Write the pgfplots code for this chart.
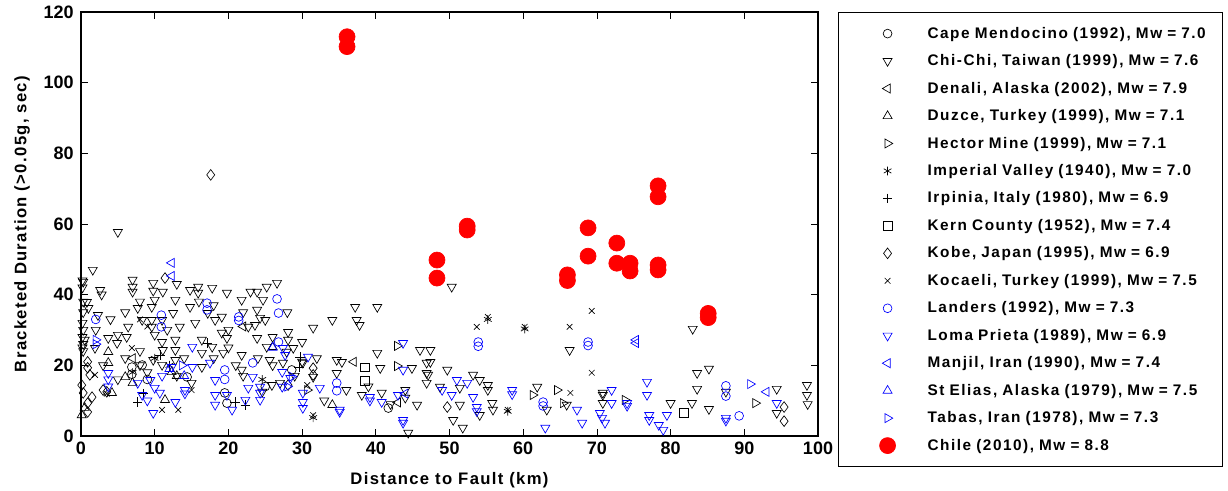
\documentclass[border=0pt]{standalone}
\usepackage{fontspec}
\setmainfont{Liberation Sans}
\usepackage{pgfplots}
\pgfplotsset{compat=1.18}
\definecolor{mblue}{rgb}{0,0,1}
\definecolor{mred}{rgb}{1,0,0}
\begin{document}
\begin{tikzpicture}
\begin{axis}[
 scale only axis, width=552.75pt, height=318pt,
 xmin=0,xmax=100,ymin=0,ymax=120,
 xtick={0,10,...,100}, ytick={0,20,...,120},
 tick align=inside, tick pos=both, major tick length=5pt,
 axis line style={line width=0.9pt},
 every tick/.style={black,line width=0.6pt},
 /pgf/number format/assume math mode=true,
 tick label style={font=\fontsize{13.5}{15}\selectfont\bfseries},
 xticklabel style={yshift=-1pt},
 yticklabel style={xshift=-2pt},
 xlabel={Distance to Fault (km)},
 ylabel={Bracketed Duration (>0.05g, sec)},
 label style={font=\fontsize{12.5}{14}\selectfont\bfseries\addfontfeatures{LetterSpace=8}},
 xlabel style={at={(axis description cs:0.5,-0.1038)},anchor=center},
 ylabel style={at={(axis description cs:-0.08,0.5)},anchor=center},
 every axis plot/.append style={line width=0.5pt},
 legend cell align=left,
 legend style={at={(1.0271,1)}, anchor=north west, draw=black, line width=0.9pt,
   inner xsep=0pt, inner ysep=5.45pt, row sep=0pt, column sep=0pt,
   font=\fontsize{11.5}{13}\selectfont\bfseries\addfontfeatures{LetterSpace=10},
   nodes={draw=none, inner sep=0pt, anchor=west, text width=221pt, align=left}},
 legend image code/.code={\path[draw=none,fill=none] (-36.75pt,-10.3pt) rectangle (30pt,10.3pt);
   \draw[line width=0.5pt,#1] plot coordinates {(0pt,0pt)};},
]
% Cape Mendocino
\addplot[only marks, black, mark=o, mark size=3.3pt] coordinates {
(6.9,19.5)(8.3,20.1)(6.9,17.5)(14.4,16.7)(19.5,12.2)(19.8,9.3)(28.6,18.7)(41.7,7.9)(9,16)(25,14)};
\addlegendentry{Cape Mendocino (1992), Mw = 7.0}
% Chi-Chi
\addplot[only marks, black, mark=triangle, mark size=3.9pt, mark options={rotate=180}] coordinates {
(0.2,44)(0.2,42)(0.3,38)(0.3,35)(0.2,32)(0.3,30)(0.2,28)(0.3,26)(0.2,25)(0.3,24)
(1.6,47)(0.3,43.6)(2.6,41.3)(2.8,40)(0.8,37.9)(1,36.2)(2.3,34.2)(0.5,27.2)(1.9,24.9)(3.7,27.7)
(5,28.6)(6.2,28)(5.0,57.7)(7,44.2)(7,42.2)(7,40.8)(8.3,32.8)(7.7,36.2)(9.8,43.3)(9.8,41.1)
(10,38.5)(11.1,40.8)(9.6,36.5)(9.6,32.8)(9.6,30.9)(10,28.6)(11,26.6)(11.1,24.3)(12.8,38.5)(12.5,34.8)
(13.4,30.9)(12.8,27.2)(14.8,41.3)(14.8,36.5)(15.9,42.2)(15.9,40.5)(17.8,41.9)(17.2,34.8)(18.2,32.8)(16.4,27.2)
(17.8,25.2)(19.8,40.5)(19.1,33.7)(19.1,29.2)(19.8,27.7)(21.8,38.5)(22.7,30.9)(21.8,22.9)(23,40.8)(6.4,30.9)
(4.9,26.3)(9.8,21.5)(11,20.1)(12.8,24.3)(11.7,30)(11,32.8)(12.8,21.5)(16.4,19.5)(16.4,23.5)(19.3,23.5)
(15.5,32)(21.8,18.7)
(26.6,43.3)(25.2,42.2)(23.9,40.8)(24.7,38.5)(23.9,35.7)(24.3,33.4)(23.6,31.4)(25,32.8)(23.9,27.7)(25.2,25.2)
(28.1,29.4)(28.1,27.2)(30,26.6)(31.5,30.6)(34.1,32.8)(37.2,36.5)(40.2,36.5)(37.4,32.8)(37.8,31.4)(27.9,23.8)
(28.8,24.9)(25.6,21.5)(27.4,20.7)(30.1,20.7)(34.7,21.5)(35.4,20.9)(34.7,17.8)(40.2,23.5)(40.6,19.2)(44.9,19.2)
(46,24.3)(46.9,20.7)(46.9,17.8)(38.1,11.6)(40.8,12.2)(44,13)(44,10.8)(45.6,8.8)(44.4,0.9)(25.9,14.4)
(24.6,12.5)(31.5,16.7)
(50.3,42.2)(47.4,24.3)(47.4,20.9)(47.1,17.3)(46.9,15)(49.7,18.7)(53.2,17.3)(54.1,15.8)(55.2,14.4)(55.2,13)
(51.4,13.6)(51.4,8.8)(54.1,5.9)(50.5,4.5)(51.8,2.3)(55.8,9.3)(55.9,7.4)(61.9,13.9)(63.2,7.4)(66.3,24.3)
(65.9,8.8)(70.8,12.2)(70.8,9.3)(48.7,13.9)
(83,30.3)(83.6,17.8)(85.2,19)(83.6,13.3)(80,9.3)(82.9,9.3)(85.2,7.6)(87.5,12.5)(94.4,13.3)(94.4,6.5)
(98.5,14.4)(98.5,11.6)(98.6,9)(70.8,11.6)
(8,20)(9,18)(13,17)(14,22)(15,15)(18,22)(20,25)(21,20)(22,17)(24,22)
(26,20)(27,15)(29,17)(3,20)(5,16)(6,22)(8,24)(2,30)(4,33)(6,35)
(8,38)(13,43)(16,38)(18,37)(20,30)(22,35)(26,28)(28,35)(30,21)(32,22)
(36,13)(33,10)(42,9)(39,14)};
\addlegendentry{Chi-Chi, Taiwan (1999), Mw = 7.6}
% Denali
\addplot[only marks, black, mark=triangle, mark size=3.9pt, mark options={rotate=90}] coordinates {
(7,22)(22,31)(37,21)(43,9.5)};
\addlegendentry{Denali, Alaska (2002), Mw = 7.9}
% Duzce
\addplot[only marks, black, mark=triangle, mark size=3.9pt] coordinates {
(0.1,5.9)(3.7,23.8)(3.7,20.7)(4.2,12.2)(6,16.7)(7,15)(11.4,10.2)(12.3,18.1)(13,17)(34.1,8.8)(26,25.2)(0.5,8)};
\addlegendentry{Duzce, Turkey (1999), Mw = 7.1}
% Hector Mine
\addplot[only marks, black, mark=triangle, mark size=3.9pt, mark options={rotate=-90}] coordinates {
(42.9,25.5)(42.9,19.8)(61.3,11.6)(64.6,13)(65.4,9.3)(73.8,10.2)(91.5,9.3)(30.7,13)};
\addlegendentry{Hector Mine (1999), Mw = 7.1}
% Imperial Valley
\addplot[only marks, black, mark=asterisk, mark size=3.3pt] coordinates {
(55.2,33)(60.2,30.3)(57.9,7)(31.5,5.2)(24.6,16)(7,18)(10,22)(12,20)};
\addlegendentry{Imperial Valley (1940), Mw = 7.0}
% Irpinia
\addplot[only marks, black, mark=+, mark size=3.5pt] coordinates {
(7.7,9.6)(10.7,22.9)(17.2,26.3)(20.9,9.6)(22.3,8.8)(29.7,22.4)(29.6,19.5)(8.5,12)};
\addlegendentry{Irpinia, Italy (1980), Mw = 6.9}
% Kern County
\addplot[only marks, black, mark=square, mark size=3.2pt] coordinates {
(38.5,19.5)(38.5,15.6)(81.8,6.5)};
\addlegendentry{Kern County (1952), Mw = 7.4}
% Kobe
\addplot[only marks, black, mark=diamond, mark size=4pt] coordinates {
(0.9,21)(0.9,19.3)(1.2,17.3)(0.1,14.4)(0.3,12.2)(0.9,9.3)(0.9,6.8)(11.4,44.7)(3,13)(3.5,12.5)
(17.6,73.9)(31.5,19.2)(31.5,17.3)(28.1,14.4)(49.7,8.2)(95.4,8.2)(95.4,4.2)(1.5,11)};
\addlegendentry{Kobe, Japan (1995), Mw = 6.9}
% Kocaeli
\addplot[only marks, black, mark=x, mark size=3pt] coordinates {
(53.7,30.9)(55.2,33.7)(60.2,30.9)(66.3,30.9)(69.3,35.4)(69.3,17.9)(57.9,7.4)(66.4,12.2)(31.5,5.9)(13.2,7.4)
(11,7.4)(6.9,24.9)(15,13)(1.9,17.3)(8,33)(9,31)(30.7,14.4)(3.5,12)};
\addlegendentry{Kocaeli, Turkey (1999), Mw = 7.5}
% Landers
\addplot[only marks, mblue, mark=o, mark size=3.3pt] coordinates {
(2,33)(10.9,34.2)(10.9,30.9)(17.1,37.6)(17.1,35.7)(21.4,33.7)(21.4,32.7)(19.5,18.7)(19.5,16)(23.3,20.7)
(26.6,38.8)(26.8,34.8)(26.8,26.6)(34.7,15)(34.7,12.8)(53.9,26.6)(53.9,25.4)(62.7,9.6)(62.7,8.5)(68.8,26.6)
(68.8,25.6)(87.5,14.2)(87.5,11.3)(89.3,5.7)};
\addlegendentry{Landers (1992), Mw = 7.3}
% Loma Prieta
\addplot[only marks, mblue, mark=triangle, mark size=3.9pt, mark options={rotate=180}] coordinates {
(3.7,17.8)(3.7,16)(3.7,14)(7.7,15)(8.3,11.6)(9.4,15.8)(10,13.6)(9.8,6.5)(10.7,12.2)(12.8,9.6)
(15.1,25.2)(15.1,19.5)(17.5,20.7)(14.1,13)(14.1,12)(18.2,15.8)(18.2,11.6)(18.2,8.8)(19.8,11.6)(20.5,7.4)
(22.7,13.6)(22.3,10.2)(12.3,19.5)(11,17)(9,10)
(23.3,16.7)(24.3,13.9)(24.3,12.2)(24.3,10.2)(27.4,24.9)(27.7,22.9)(27.3,18.1)(27.3,13.9)(30.1,12.2)(30.1,9.6)
(30.1,7.9)(30.8,22.4)(32.4,13.6)(35.1,7.4)(35.1,6.8)(39.2,11)(39.2,10)(40.8,9.6)(43,11.6)(43.7,26.3)
(43.7,18.7)(43.7,4.5)(43.7,3.7)(28.4,16.4)
(51,15.8)(52.4,15)(53.2,11)(53.7,8.2)(53.7,7)(58.5,13)(58.5,11.8)(50.3,11.6)(49,13)(63,2.3)
(67.3,7.4)(68,3.7)(70.4,6.5)(70.7,5.1)(71.1,3.7)(72,13)(72,9.3)
(76.8,15.3)(76.8,11.6)(77.1,5.9)(77.1,4.5)(78.4,3.1)(79,1.7)(79.5,5.9)(87.5,5.1)(87.5,4.3)(94.4,9.3)
(74.1,9.3)(74.1,8.5)};
\addlegendentry{Loma Prieta (1989), Mw = 6.9}
% Manjil
\addplot[only marks, mblue, mark=triangle, mark size=3.9pt, mark options={rotate=90}] coordinates {
(12.3,49)(12.3,45.3)(75.3,27.2)(75.3,26.3)(93,12.5)(44,12)};
\addlegendentry{Manjil, Iran (1990), Mw = 7.4}
% St Elias
\addplot[only marks, mblue, mark=triangle, mark size=3.9pt] coordinates {
(12,19)(14,17)(26,25)};
\addlegendentry{St Elias, Alaska (1979), Mw = 7.5}
% Tabas
\addplot[only marks, mblue, mark=triangle, mark size=3.9pt, mark options={rotate=-90}] coordinates {
(2,27.2)(2,26)(13.7,20)(28.6,16.8)(90.8,14.7)(28,14)};
\addlegendentry{Tabas, Iran (1978), Mw = 7.3}
% Chile
\addplot[only marks, mred, mark=*, mark size=6pt, mark options={fill=mred, draw=mred}] coordinates {
(36.1,113.0)(36.1,110.2)(48.3,49.8)(48.3,44.7)(52.4,59.4)(52.4,58.3)(66.0,45.6)(66.0,44.0)(68.8,58.9)(68.8,50.9)
(72.7,54.6)(72.7,48.9)(74.5,48.9)(74.5,46.7)(78.3,70.8)(78.3,67.7)(78.3,48.4)(78.3,47.0)(85.1,34.7)(85.1,33.5)};
\addlegendentry{Chile (2010), Mw = 8.8}
\end{axis}
\pgfresetboundingbox
\path[use as bounding box] (-60.75pt,-40.5pt) rectangle (860.25pt,327pt);
\end{tikzpicture}
\end{document}
